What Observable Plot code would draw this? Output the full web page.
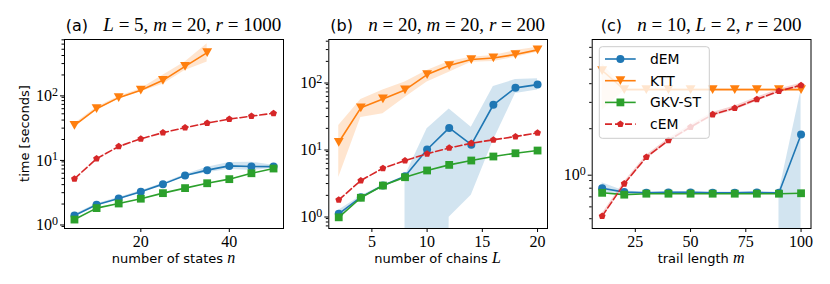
<!DOCTYPE html>
<html><head><meta charset="utf-8">
<script src="https://cdn.jsdelivr.net/npm/d3@7"></script>
<script src="https://cdn.jsdelivr.net/npm/@observablehq/plot@0.6"></script>
<style>
body{margin:0;background:#fff}
#fig{position:relative;width:830px;height:284px;overflow:hidden;background:#fff}
#fig svg{position:absolute;top:0;overflow:visible;max-width:none}
</style></head><body><div id="fig"></div>
<script>
// ---------- data ----------
const methods = ["dEM", "KTT", "GKV-ST", "cEM"];
const colors = ["#1f77b4", "#ff7f0e", "#2ca02c", "#d62728"];

// (a) number of states n
const xA = [5, 10, 15, 20, 25, 30, 35, 40, 45, 50];
const dEM_A = [1.33, 1.95, 2.44, 3.1, 4.07, 5.55, 6.7, 7.8, 7.65, 7.6];
const dEM_A_lo = [1.28, 1.88, 2.36, 3.0, 3.95, 5.35, 6.1, 6.9, 6.6, 7.2];
const dEM_A_hi = [1.38, 2.02, 2.52, 3.2, 4.2, 5.75, 7.4, 8.8, 8.9, 8.0];
const KTT_A = [33, 60, 89, 116, 165, 272, 443, null, null, null];
const KTT_A_lo = [31, 57, 85, 110, 143, 235, 317, null, null, null];
const KTT_A_hi = [35, 63, 93, 122, 197, 317, 611, null, null, null];
const GKV_A = [1.15, 1.73, 2.04, 2.42, 2.95, 3.53, 4.2, 4.86, 6.0, 7.1];
const cEM_A = [4.93, 10.1, 15.6, 20.5, 25.5, 30.5, 35.9, 41.4, 46, 51];

// (b) number of chains L   (null lower bound = non-positive, clipped on log axis)
const xB = [2, 4, 6, 8, 10, 12, 14, 16, 18, 20];
const dEM_B = [1.06, 1.88, 2.8, 3.86, 9.66, 20.3, 11.4, 45, 80.5, 90];
const dEM_B_lo = [0.95, 1.8, 2.75, null, null, 0.94, 2.0, 13.2, 66, 75];
const dEM_B_hi = [1.2, 1.95, 2.85, 3.86, 19.7, 39, 20.8, 84, 107, 110];
const KTT_B = [12.4, 40.5, 55, 75, 127, 173, 213, 225, 253, 297];
const KTT_B_lo = [3.7, 29, 33, 58, 98, 138, 194, 199, 230, 274];
const KTT_B_hi = [22, 54, 75, 98, 146, 199, 230, 244, 290, 325];
const GKV_B = [0.94, 1.84, 2.8, 3.73, 4.7, 5.7, 6.62, 7.6, 8.5, 9.33];
const cEM_B = [1.71, 3.33, 5.08, 6.62, 8.34, 10.2, 12.0, 13.5, 15.1, 17.1];

// (c) trail length m
const xC = [10, 20, 30, 40, 50, 60, 70, 80, 90, 100];
const dEM_C = [0.80, 0.753, 0.745, 0.75, 0.75, 0.745, 0.745, 0.75, 0.745, 1.83];
const dEM_C_lo = [0.74, 0.74, 0.735, 0.74, 0.74, 0.735, 0.735, 0.74, null, null];
const dEM_C_hi = [0.87, 0.765, 0.755, 0.76, 0.76, 0.755, 0.755, 0.76, 0.745, 3.6];
const KTT_C = [4.9, 3.65, 3.65, 3.65, 3.65, 3.65, 3.65, 3.65, 3.65, 3.65];
const KTT_C_lo = [2.65, 3.6, 3.6, 3.6, 3.6, 3.6, 3.6, 3.6, 3.6, 3.6];
const KTT_C_hi = [5.45, 3.7, 3.7, 3.7, 3.7, 3.7, 3.7, 3.7, 3.7, 3.7];
const GKV_C = [0.745, 0.724, 0.735, 0.735, 0.735, 0.735, 0.735, 0.735, 0.735, 0.74];
const cEM_C = [0.52, 0.857, 1.29, 1.67, 2.05, 2.49, 2.75, 3.14, 3.57, 3.90];
const cEM_C_lo = [0.50, 0.83, 1.25, 1.62, 1.98, 2.41, 2.66, 3.04, 3.46, 3.78];
const cEM_C_hi = [0.54, 0.885, 1.33, 1.72, 2.12, 2.57, 2.84, 3.24, 3.68, 4.02];

// tick values
const xTicksA = [20, 40];
const xTicksB = [5, 10, 15, 20];
const xTicksC = [25, 50, 75, 100];
const yMajorA = [1, 10, 100];
const yMinorA = [0.9, 2, 3, 4, 5, 6, 7, 8, 9, 20, 30, 40, 50, 60, 70, 80, 90, 200, 300, 400, 500, 600, 700];
const yMajorB = [1, 10, 100];
const yMinorB = [0.7, 0.8, 0.9, 2, 3, 4, 5, 6, 7, 8, 9, 20, 30, 40, 50, 60, 70, 80, 90, 200, 300, 400];
const yMajorC = [1];
const yMinorC = [0.5, 0.6, 0.7, 0.8, 0.9, 2, 3, 4, 5, 6, 7];

// text
const tags = ["(a)", "(b)", "(c)"];
const titleMath = [
  [["L", 1], [" = 5, ", 0], ["m", 1], [" = 20, ", 0], ["r", 1], [" = 1000", 0]],
  [["n", 1], [" = 20, ", 0], ["m", 1], [" = 20, ", 0], ["r", 1], [" = 200", 0]],
  [["n", 1], [" = 10, ", 0], ["L", 1], [" = 2, ", 0], ["r", 1], [" = 200", 0]]
];
const xLabels = [["number of states ", "n"], ["number of chains ", "L"], ["trail length ", "m"]];
const yLabel = "time [seconds]";

// ---------- marker symbols ----------
const triDown = {draw(ctx, size) { const a = Math.sqrt(size / Math.PI); const hw = 1.3 * a, hh = 1.15 * a;
  ctx.moveTo(-hw, -hh); ctx.lineTo(hw, -hh); ctx.lineTo(0, hh); ctx.closePath(); }};
const pentagon = {draw(ctx, size) { const a = Math.sqrt(size / Math.PI);
  for (let k = 0; k < 5; k++) { const t = -Math.PI / 2 + k * 2 * Math.PI / 5;
    const px = a * Math.cos(t), py = a * Math.sin(t); k ? ctx.lineTo(px, py) : ctx.moveTo(px, py); }
  ctx.closePath(); }};
const style = [
  {symbol: "circle", r: 4, dash: null},
  {symbol: triDown, r: 3.8, dash: null},
  {symbol: "square", r: 4.4, dash: null},
  {symbol: pentagon, r: 3.6, dash: "7,3"}
];

const SANS = "'DejaVu Sans', sans-serif";
const SERIF = "'Liberation Serif', 'DejaVu Serif', serif";
const fig = document.getElementById("fig");

function panel(cfg) {
  const {x, ys, los, his, xDomain, yDomain, xTicks, yMajor, yMinor, left, width, mL, mR, idx} = cfg;
  const marks = [];
  ys.forEach((y, s) => {
    if (!los[s]) return;
    let seg = 0; const rows = [];
    x.forEach((xv, i) => {
      if (y[i] == null) return;
      if (los[s][i] == null && i > 0 && los[s][i - 1] != null) seg++;
      rows.push({x: xv, lo: los[s][i] == null ? 1e-30 : los[s][i], hi: his[s][i], seg});
    });
    marks.push(Plot.areaY(rows, {x: "x", y1: "lo", y2: "hi", z: "seg", fill: colors[s], fillOpacity: 0.2, clip: true}));
  });
  ys.forEach((y, s) => {
    const rows = x.map((xv, i) => ({x: xv, y: y[i]})).filter(d => d.y != null);
    marks.push(Plot.line(rows, {x: "x", y: "y", stroke: colors[s], strokeWidth: 1.6, strokeDasharray: style[s].dash}));
    marks.push(Plot.dot(rows, {x: "x", y: "y", fill: colors[s], symbol: style[s].symbol, r: style[s].r}));
  });
  marks.push(
    Plot.axisX({ticks: xTicks, tickSize: 4, tickPadding: 3, label: null, tickFormat: d => String(d)}),
    Plot.axisY({ticks: yMajor, tickSize: 4, tickPadding: 2.5, label: null, dy: 1.5,
                tickFormat: d => String(Math.round(Math.log10(d)))}),
    Plot.axisY({ticks: yMinor, tickSize: 2.5, label: null, tickFormat: () => ""}),
    Plot.frame({stroke: "black", strokeWidth: 1})
  );
  const svgEl = Plot.plot({
    width, height: 284, marginLeft: mL, marginRight: mR, marginTop: 39, marginBottom: 56,
    x: {domain: xDomain},
    y: {type: "log", domain: yDomain},
    style: {background: "transparent", overflow: "visible", fontFamily: SERIF, fontSize: "16px"},
    marks
  });
  svgEl.style.left = left + "px";
  fig.appendChild(svgEl);
  const svg = d3.select(svgEl);
  // serif tick labels
  svg.selectAll('[aria-label="x-axis tick label"] text, [aria-label="y-axis tick label"] text')
    .style("font-family", SERIF).style("font-size", "16px");
  // superscript exponents on major y tick labels
  svg.selectAll('[aria-label="y-axis tick label"] text').each(function () {
    const k = this.textContent; if (!k) return;
    this.textContent = "";
    const t = d3.select(this);
    t.append("tspan").text("10");
    t.append("tspan").attr("dy", "-0.45em").style("font-size", "12px").text(k);
  });
  const cx = (mL + width - mR) / 2;
  // title
  const tt = svg.append("text").attr("x", cx).attr("y", 31).attr("text-anchor", "middle").style("white-space", "pre").attr("fill", "black");
  tt.append("tspan").style("font-family", SANS).style("font-size", "16px").text(tags[idx] + "   ");
  titleMath[idx].forEach(([s, it]) => tt.append("tspan").style("font-family", SERIF).style("font-size", "19px")
    .style("font-style", it ? "italic" : "normal").text(s));
  // x label
  const xl = svg.append("text").attr("x", cx).attr("y", 263).attr("text-anchor", "middle").style("white-space", "pre").attr("fill", "black");
  xl.append("tspan").style("font-family", SANS).style("font-size", "13px").text(xLabels[idx][0]);
  xl.append("tspan").style("font-family", SERIF).style("font-size", "16px").style("font-style", "italic").text(xLabels[idx][1]);
  return svg;
}

const svgA = panel({idx: 0, x: xA, ys: [dEM_A, KTT_A, GKV_A, cEM_A], los: [dEM_A_lo, KTT_A_lo, null, null],
  his: [dEM_A_hi, KTT_A_hi, null, null], xDomain: [2.75, 52.25], yDomain: [0.836, 708],
  xTicks: xTicksA, yMajor: yMajorA, yMinor: yMinorA, left: 0, width: 290, mL: 64, mR: 7});
svgA.append("text").attr("transform", "translate(28.5,133.5) rotate(-90)").attr("text-anchor", "middle")
  .style("font-family", SANS).style("font-size", "13px").attr("fill", "black").text(yLabel);

panel({idx: 1, x: xB, ys: [dEM_B, KTT_B, GKV_B, cEM_B], los: [dEM_B_lo, KTT_B_lo, null, null],
  his: [dEM_B_hi, KTT_B_hi, null, null], xDomain: [1.1, 20.9], yDomain: [0.64, 424],
  xTicks: xTicksB, yMajor: yMajorB, yMinor: yMinorB, left: 290, width: 264, mL: 38.3, mR: 7});

const svgC = panel({idx: 2, x: xC, ys: [dEM_C, KTT_C, GKV_C, cEM_C], los: [dEM_C_lo, KTT_C_lo, null, cEM_C_lo],
  his: [dEM_C_hi, KTT_C_hi, null, cEM_C_hi], xDomain: [5.5, 104.5], yDomain: [0.43, 7.9],
  xTicks: xTicksC, yMajor: yMajorC, yMinor: yMinorC, left: 554, width: 276, mL: 37.7, mR: 19.5});

// legend (panel c, upper left, semi-transparent box)
const lg = svgC.append("g");
lg.append("rect").attr("x", 45.3).attr("y", 46.7).attr("width", 110).attr("height", 91.6).attr("rx", 3)
  .attr("fill", "white").attr("fill-opacity", 0.8).attr("stroke", "#cccccc").attr("stroke-width", 1);
methods.forEach((m, s) => {
  const y = 59 + s * 21.7;
  lg.append("line").attr("x1", 51).attr("x2", 81.7).attr("y1", y).attr("y2", y)
    .attr("stroke", colors[s]).attr("stroke-width", 1.6).attr("stroke-dasharray", style[s].dash);
  const type = style[s].symbol === "circle" ? d3.symbolCircle : style[s].symbol === "square" ? d3.symbolSquare : style[s].symbol;
  lg.append("path").attr("transform", `translate(66.4,${y})`)
    .attr("d", d3.symbol(type, Math.PI * style[s].r * style[s].r)()).attr("fill", colors[s]);
  lg.append("text").attr("x", 96).attr("y", y + 5).attr("text-anchor", "start")
    .style("font-family", SANS).style("font-size", "13.9px").attr("fill", "black").text(m);
});
</script></body></html>
